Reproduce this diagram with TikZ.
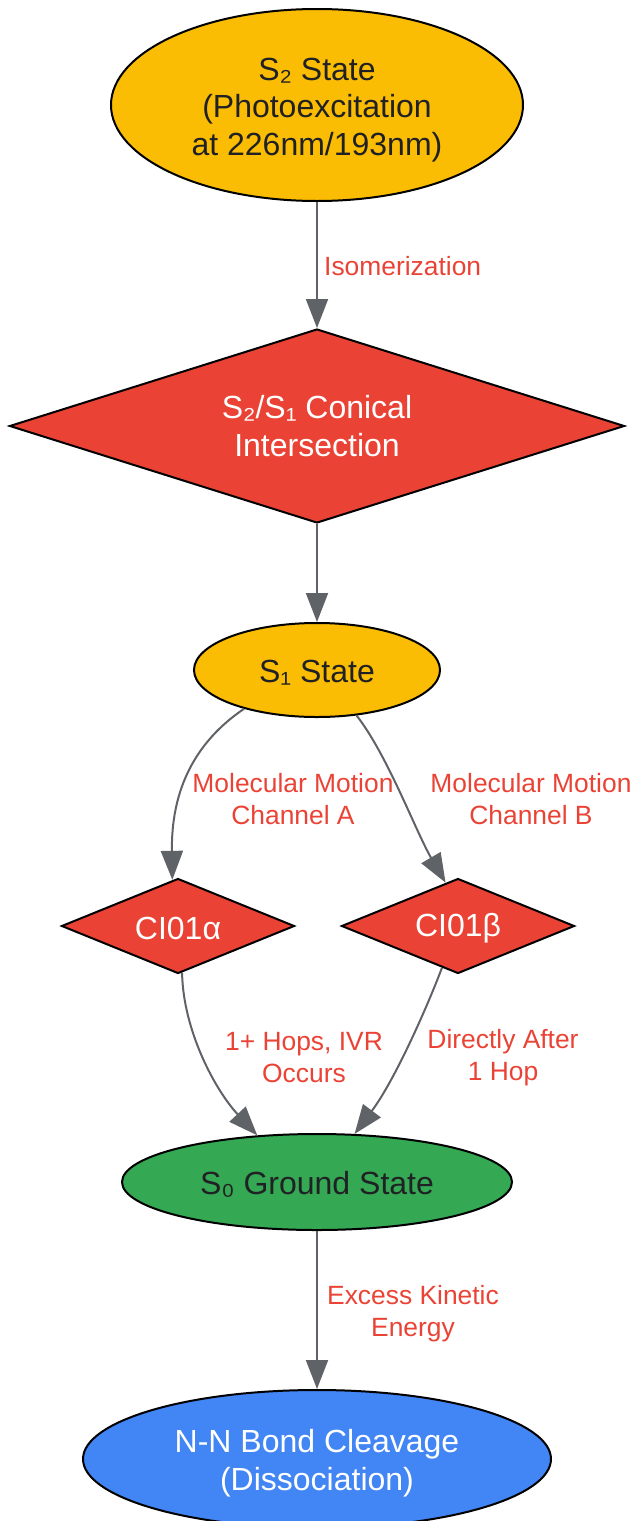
\documentclass[tikz,border=0pt]{standalone}
\usepackage{fontspec}
\setmainfont{Liberation Sans}
\usetikzlibrary{shapes.geometric,arrows.meta}
\definecolor{gyellow}{HTML}{FBBC04}
\definecolor{gred}{HTML}{EA4335}
\definecolor{ggreen}{HTML}{34A853}
\definecolor{gblue}{HTML}{4285F4}
\definecolor{gtext}{HTML}{202124}
\definecolor{gedge}{HTML}{5F6368}
\newcommand\nodefnt{\fontsize{32}{37.5}\selectfont}
\newcommand\lblfnt{\fontsize{26.4}{32}\selectfont}
\begin{document}
\begin{tikzpicture}[x=1pt,y=-1pt,
  ell/.style={ellipse, draw=black, line width=2pt, inner sep=0pt, align=center, font=\nodefnt},
  dia/.style={diamond, draw=black, line width=2pt, inner sep=0pt, align=center, fill=gred, text=white, font=\nodefnt},
  edge/.style={draw=gedge, line width=2pt, -{Triangle[length=29pt,width=22pt]}},
  lbl/.style={text=gred, font=\lblfnt, align=center, inner sep=0pt}]
\useasboundingbox (0,0) rectangle (636,1521);
\node[ell, fill=gyellow, text=gtext, text height=107pt, minimum width=412pt, minimum height=192pt] (s2) at (317,105) {S₂ State\\(Photoexcitation\\at 226nm/193nm)};
\node[dia, aspect=3.17, minimum width=615pt, minimum height=194pt] (ci) at (317,426) {S₂/S₁ Conical\\Intersection};
\node[ell, fill=gyellow, text=gtext, text height=27pt, minimum width=246pt, minimum height=94pt] (s1) at (317,670) {S₁ State};
\node[dia, aspect=2.45, text height=27pt, minimum width=233pt, minimum height=95pt] (cia) at (178,926) {CI01α};
\node[dia, aspect=2.45, text height=27pt, minimum width=233pt, minimum height=95pt] (cib) at (458,926) {CI01β};
\node[ell, fill=ggreen, text=gtext, text height=27pt, minimum width=390pt, minimum height=96pt] (s0) at (317,1182) {S₀ Ground State};
\node[ell, fill=gblue, text=white, text height=69pt, minimum width=468pt, minimum height=138pt] (nn) at (317,1459) {N-N Bond Cleavage\\(Dissociation)};

\draw[edge] (s2.south) -- (ci.north);
\draw[edge] (ci.south) -- (s1.north);
\draw[edge] (s1.208) .. controls (195,742) and (171,790) .. (cia.97);
\draw[edge] (s1.311) .. controls (387,754) and (416,832) .. (cib.106);
\draw[edge] (cia.275) .. controls (183,1030) and (215,1090) .. (s0.142);
\draw[edge] (cib.249) .. controls (428,1005) and (395,1080) .. (s0.52);
\draw[edge] (s0.south) -- (nn.north);

\node[lbl, anchor=west] (l1) at (324,266) {Isomerization};
\node[lbl] (l2) at (293,799) {Molecular Motion\\Channel A};
\node[lbl] (l3) at (531,799) {Molecular Motion\\Channel B};
\node[lbl] (l4) at (304,1058) {1+ Hops, IVR\\Occurs};
\node[lbl] (l5) at (503,1058) {Directly After\\1 Hop};
\node[lbl] (l6) at (413,1314) {Excess Kinetic\\Energy};
\end{tikzpicture}
\end{document}
